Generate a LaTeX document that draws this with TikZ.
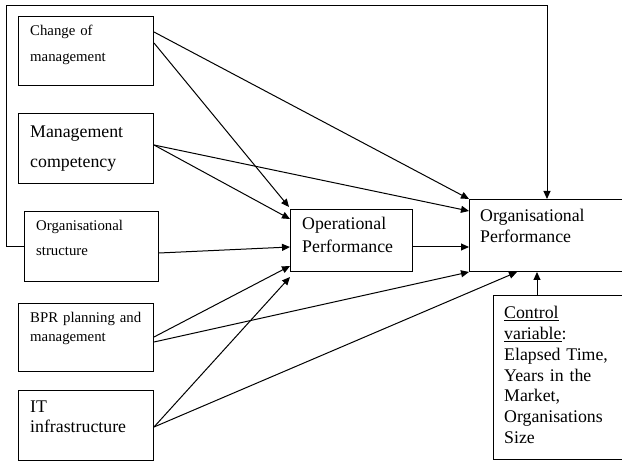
\documentclass[tikz,border=0pt]{standalone}
\usepackage{fontspec}
\setmainfont{Liberation Serif}
\usetikzlibrary{arrows.meta,calc}

\tikzset{
  box/.style={draw, line width=1pt, inner sep=0pt, anchor=north west},
  txt/.style={anchor=base west, inner sep=0pt, align=left, text width=#1},
  txt/.default=120pt,
  link/.style={line width=1pt, -{Triangle[length=8pt,width=7pt]}},
}

\begin{document}
\begin{tikzpicture}[x=1pt,y=-1pt]
\useasboundingbox (0,0) rectangle (622,462);

% boxes on the left
\node[box, minimum width=135pt, minimum height=69pt] (chg) at (18,16) {};
\node[box, minimum width=135pt, minimum height=70pt] (mgt) at (18,113) {};
\node[box, minimum width=134pt, minimum height=70pt] (str) at (24,211) {};
\node[box, minimum width=135pt, minimum height=68pt] (bpr) at (18,303) {};
\node[box, minimum width=135pt, minimum height=70pt] (its) at (18,390) {};

% boxes on the right
\node[box, minimum width=122pt, minimum height=62pt] (oper) at (290,209) {};
\node[box, minimum width=160pt, minimum height=72pt] (orgp) at (469,199) {};
\node[box, minimum width=140pt, minimum height=164pt] (ctrl) at (493,295) {};

% texts
\node[txt, font={\fontsize{14.8}{26}\selectfont}] (chgtxt) at (30,36) {Change of\\management};
\node[txt, font={\fontsize{17.8}{30}\selectfont}] (mgttxt) at (30,138) {Management\\competency};
\node[txt, font={\fontsize{14.8}{25}\selectfont}] (strtxt) at (36,231) {Organisational\\structure};
\node[txt, font={\fontsize{14.8}{18.5}\selectfont}] (bprtxt) at (30,323) {BPR planning and\\management};
\node[txt, font={\fontsize{17.8}{20}\selectfont}] (itstxt) at (30,413) {IT\\infrastructure};
\node[txt, font={\fontsize{17.8}{23}\selectfont}] (opertxt) at (302,230) {Operational\\Performance};
\node[txt, font={\fontsize{17.8}{21}\selectfont}] (orgptxt) at (480,222) {Organisational\\Performance};
\node[txt=115pt, font={\fontsize{17.8}{20.7}\selectfont}] (ctrltxt) at (504,319)
  {\underline{Control}\\\underline{variable}:\\Elapsed Time,\\Years in the\\Market,\\Organisations\\Size};

% feedback line
\coordinate (fb) at (6,6);
\draw[link] (str.west) -| (fb) -| ($(orgp.north west)+(78,0)$);

% arrows
\draw[link] ($(chg.north east)+(0,16)$) -- (orgp.north west);
\draw[link] ($(chg.north east)+(0,27)$) -- ($(oper.north west)+(-1,-2)$);
\draw[link] ($(mgt.north east)+(0,32)$) -- ($(oper.north west)+(0,10)$);
\draw[link] ($(mgt.north east)+(0,32)$) -- ($(orgp.north west)+(0,12)$);
\draw[link] ($(str.north east)+(0,42)$) -- ($(oper.north west)+(0,38)$);
\draw[link] ($(bpr.north east)+(0,34)$) -- ($(oper.south west)+(0,-6)$);
\draw[link] ($(bpr.north east)+(0,39)$) -- (orgp.south west);
\draw[link] ($(its.north east)+(0,37)$) -- ($(oper.south west)+(0,5)$);
\draw[link] ($(its.north east)+(0,37)$) -- ($(orgp.south west)+(48,0)$);
\draw[link] ($(oper.north east)+(0,38)$) -- ($(orgp.north west)+(0,48)$);
\draw[link] ($(ctrl.north west)+(44,0)$) -- ($(orgp.south west)+(68,0)$);
\end{tikzpicture}
\end{document}
